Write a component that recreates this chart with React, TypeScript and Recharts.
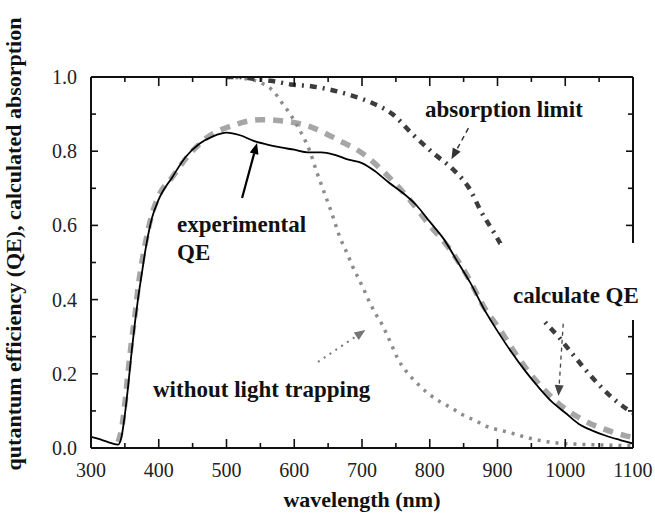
import React from 'react';
import { LineChart, Line, XAxis, YAxis, ReferenceLine } from 'recharts';

const serif = '"Liberation Serif", "Times New Roman", serif';

const xTicks = [300, 350, 400, 450, 500, 550, 600, 650, 700, 750, 800, 850, 900, 950, 1000, 1050, 1100];
const yTicks = [0, 0.1, 0.2, 0.3, 0.4, 0.5, 0.6, 0.7, 0.8, 0.9, 1.0];

// experimental QE (solid black)
const expWl = [300, 310, 320, 330, 340, 345, 350, 355, 360, 365, 370, 375, 380, 390, 400, 420, 440, 460, 480, 500, 520, 540, 560, 580, 600, 620, 640, 660, 680, 700, 720, 740, 760, 780, 800, 820, 840, 860, 880, 900, 920, 940, 960, 980, 1000, 1020, 1040, 1060, 1080, 1100];
const expQE = [0.03, 0.025, 0.019, 0.013, 0.009, 0.03, 0.09, 0.17, 0.26, 0.34, 0.41, 0.47, 0.53, 0.62, 0.67, 0.73, 0.785, 0.82, 0.84, 0.85, 0.843, 0.828, 0.818, 0.81, 0.804, 0.797, 0.797, 0.79, 0.777, 0.768, 0.745, 0.715, 0.688, 0.655, 0.61, 0.565, 0.505, 0.445, 0.375, 0.315, 0.26, 0.21, 0.165, 0.125, 0.095, 0.065, 0.047, 0.033, 0.022, 0.012];

// calculated QE (gray dashes)
const calcWl = [340, 345, 350, 355, 360, 365, 370, 375, 380, 390, 400, 420, 440, 470, 510, 550, 590, 625, 665, 700, 740, 770, 800, 830, 855, 880, 905, 930, 960, 990, 1030, 1070, 1100];
const calcQE = [0.016, 0.05, 0.12, 0.21, 0.29, 0.36, 0.44, 0.5, 0.55, 0.63, 0.68, 0.73, 0.78, 0.835, 0.87, 0.885, 0.88, 0.865, 0.83, 0.795, 0.73, 0.67, 0.6, 0.535, 0.465, 0.38, 0.315, 0.245, 0.175, 0.12, 0.072, 0.043, 0.028];

// absorption limit (dark dash-dot)
const limWl = [500, 520, 540, 565, 595, 625, 655, 685, 715, 745, 775, 805, 835, 860, 875, 895, 920, 945, 966, 990, 1010, 1035, 1062, 1091, 1100];
const limAbs = [1.0, 1.0, 0.995, 0.99, 0.98, 0.975, 0.965, 0.95, 0.93, 0.9, 0.845, 0.795, 0.75, 0.695, 0.64, 0.58, 0.5, 0.42, 0.35, 0.3, 0.255, 0.2, 0.148, 0.105, 0.095];

// without light trapping (gray dots)
const noTrapWl = [500, 530, 550, 570, 582, 594, 604, 613, 623, 633, 645, 655, 668, 678, 686, 694, 702, 712, 720, 729, 737, 745, 753, 766, 781, 797, 815, 833, 849, 867, 884, 904, 921, 938, 955, 973, 990, 1020, 1060, 1100];
const noTrapAbs = [1.0, 0.995, 0.985, 0.96, 0.93, 0.9, 0.87, 0.84, 0.8, 0.745, 0.685, 0.635, 0.565, 0.525, 0.49, 0.46, 0.43, 0.39, 0.362, 0.335, 0.305, 0.272, 0.24, 0.205, 0.175, 0.148, 0.125, 0.107, 0.089, 0.074, 0.058, 0.048, 0.04, 0.031, 0.023, 0.017, 0.013, 0.01, 0.008, 0.006];

const zip = (xs: number[], ys: number[]) => xs.map((wl, i) => ({ wl, v: ys[i] }));

const expData = zip(expWl, expQE);
const calcData = zip(calcWl, calcQE);
const limData = zip(limWl, limAbs);
const noTrapData = zip(noTrapWl, noTrapAbs);

const isMajorX = (v: number) => v % 100 === 0;
const isMajorY = (v: number) => Math.round(v * 10) % 2 === 0;

function BottomTick({ x, y, payload }: any) {
  const major = isMajorX(payload.value);
  return (
    <g>
      <line x1={x} x2={x} y1={y} y2={y - (major ? 9 : 5)} stroke="#111" strokeWidth={1.6} />
      {major && (
        <text x={x} y={y + 29} textAnchor="middle" fontFamily={serif} fontSize={20} fill="#222">
          {payload.value}
        </text>
      )}
    </g>
  );
}

function TopTick({ x, y, payload }: any) {
  const major = isMajorX(payload.value);
  return <line x1={x} x2={x} y1={y} y2={y + (major ? 9 : 5)} stroke="#111" strokeWidth={1.6} />;
}

function LeftTick({ x, y, payload }: any) {
  const major = isMajorY(payload.value);
  return (
    <g>
      <line x1={x} x2={x + (major ? 7 : 5)} y1={y} y2={y} stroke="#111" strokeWidth={1.6} />
      {major && (
        <text x={x - 14} y={y + 7} textAnchor="end" fontFamily={serif} fontSize={20} fill="#222">
          {payload.value.toFixed(1)}
        </text>
      )}
    </g>
  );
}

function RightTick({ x, y, payload }: any) {
  const major = isMajorY(payload.value);
  return <line x1={x} x2={x - (major ? 7 : 5)} y1={y} y2={y} stroke="#111" strokeWidth={1.6} />;
}

const arrow = (color: string, width: number, dash?: string) => (props: any) => {
  const { x1, y1, x2, y2 } = props;
  const ang = Math.atan2(y2 - y1, x2 - x1);
  const L = 11;
  const W = 4.5;
  const bx = x2 - L * Math.cos(ang);
  const by = y2 - L * Math.sin(ang);
  const pts = `${x2},${y2} ${bx + W * Math.sin(ang)},${by - W * Math.cos(ang)} ${bx - W * Math.sin(ang)},${by + W * Math.cos(ang)}`;
  return (
    <g>
      <line x1={x1} y1={y1} x2={bx} y2={by} stroke={color} strokeWidth={width} strokeDasharray={dash} />
      <polygon points={pts} fill={color} />
    </g>
  );
};

const labelStyle = { fontFamily: serif, fontWeight: 700, fontSize: 23, fill: '#111' } as const;

export default function App() {
  return (
    <div style={{ position: 'absolute', left: 0, top: 0, width: 655, height: 517, background: '#fff' }}>
      <LineChart width={655} height={517} margin={{ top: 75, right: 20, bottom: 9, left: 31 }}>
        <XAxis
          dataKey="wl"
          type="number"
          domain={[300, 1100]}
          ticks={xTicks}
          allowDataOverflow
          height={60}
          tickSize={0}
          tickMargin={0}
          tickLine={false}
          axisLine={{ stroke: '#111', strokeWidth: 2 }}
          tick={<BottomTick />}
          interval={0}
        />
        <XAxis
          xAxisId="top"
          orientation="top"
          dataKey="wl"
          type="number"
          domain={[300, 1100]}
          ticks={xTicks}
          allowDataOverflow
          height={2}
          tickSize={0}
          tickMargin={0}
          tickLine={false}
          axisLine={{ stroke: '#111', strokeWidth: 2 }}
          tick={<TopTick />}
          interval={0}
        />
        <YAxis
          type="number"
          domain={[0, 1]}
          ticks={yTicks}
          allowDataOverflow
          width={60}
          tickSize={0}
          tickMargin={0}
          tickLine={false}
          axisLine={{ stroke: '#111', strokeWidth: 2 }}
          tick={<LeftTick />}
          interval={0}
        />
        <YAxis
          yAxisId="right"
          orientation="right"
          type="number"
          domain={[0, 1]}
          ticks={yTicks}
          allowDataOverflow
          width={2}
          tickSize={0}
          tickMargin={0}
          tickLine={false}
          axisLine={{ stroke: '#111', strokeWidth: 2 }}
          tick={<RightTick />}
          interval={0}
        />
        <Line data={calcData} dataKey="v" type="monotone" stroke="#a6a6a6" strokeWidth={5.5} strokeDasharray="10 8" dot={false} isAnimationActive={false} />
        <Line data={noTrapData} dataKey="v" type="monotone" stroke="#8c8c8c" strokeWidth={3.5} strokeDasharray="3 6" dot={false} isAnimationActive={false} />
        <Line data={limData} dataKey="v" type="monotone" stroke="#3c3c3c" strokeWidth={4.5} strokeDasharray="7 6 2 6" dot={false} isAnimationActive={false} />
        <Line data={expData} dataKey="v" type="monotone" stroke="#000" strokeWidth={1.8} dot={false} isAnimationActive={false} />
        <ReferenceLine segment={[{ x: 523, y: 0.674 }, { x: 545, y: 0.822 }]} shape={arrow('#000', 2.2)} />
        <ReferenceLine segment={[{ x: 857, y: 0.862 }, { x: 832, y: 0.778 }]} shape={arrow('#333', 1.5, '5 4')} />
        <ReferenceLine segment={[{ x: 635, y: 0.232 }, { x: 705, y: 0.318 }]} shape={arrow('#777', 2, '2 5')} />
        <ReferenceLine segment={[{ x: 997, y: 0.335 }, { x: 990, y: 0.14 }]} shape={arrow('#444', 1.3, '4 4')} />
      </LineChart>
      <svg width={655} height={517} style={{ position: 'absolute', left: 0, top: 0, pointerEvents: 'none' }}>
        <rect x={500} y={243} width={146} height={77} fill="#fff" />
        <text x={425} y={117} {...labelStyle}>absorption limit</text>
        <text x={177} y={232} {...labelStyle}>experimental</text>
        <text x={177} y={260} {...labelStyle}>QE</text>
        <text x={153} y={397} {...labelStyle}>without light trapping</text>
        <text x={513} y={303} {...labelStyle}>calculate QE</text>
        <text x={362} y={507} textAnchor="middle" fontFamily={serif} fontWeight={700} fontSize={22} fill="#111">
          wavelength (nm)
        </text>
        <text transform="translate(21,244) rotate(-90)" textAnchor="middle" fontFamily={serif} fontWeight={700} fontSize={22} fill="#111">
          qutantum efficiency (QE), calculated absorption
        </text>
      </svg>
    </div>
  );
}
